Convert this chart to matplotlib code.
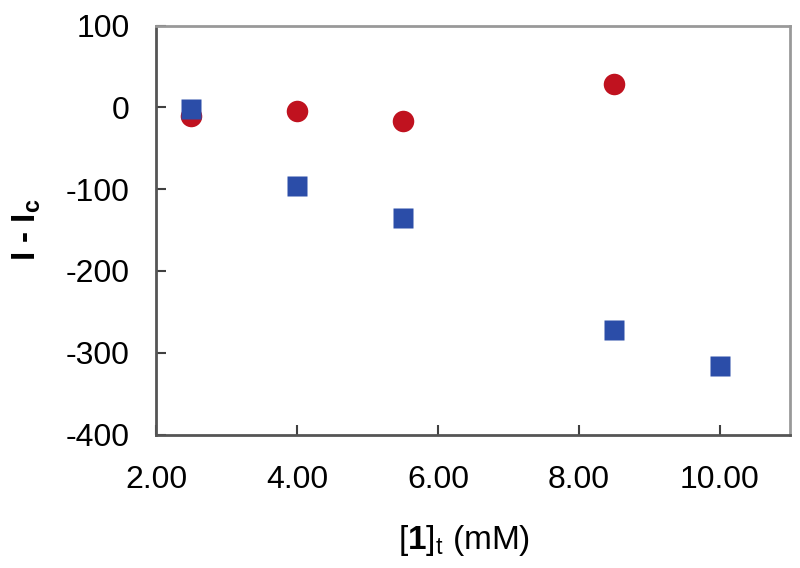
import numpy as np
import matplotlib
matplotlib.use("Agg")
import matplotlib.pyplot as plt

# ===============================================================================

conc_red = [2.5, 4.0, 5.5, 8.5]
diff_red = [-10, -4, -17, 29]

conc_blue = [2.5, 4.0, 5.5, 8.5, 10.0]
diff_blue = [-2, -96, -135, -272, -316]

xticks = [2, 4, 6, 8, 10]
yticks = [-400, -300, -200, -100, 0, 100]

# ===============================================================================

plt.rcParams['font.family'] = ['Liberation Sans', 'DejaVu Sans']
plt.rcParams['mathtext.fontset'] = 'custom'
plt.rcParams['mathtext.rm'] = 'Liberation Sans'
plt.rcParams['mathtext.it'] = 'Liberation Sans:italic'
plt.rcParams['mathtext.bf'] = 'Liberation Sans:bold'
plt.rcParams['axes.unicode_minus'] = False

fig = plt.figure(figsize=(8, 5.68), dpi=100)
ax = fig.add_axes([0.195, 0.235, 0.793, 0.72])

ax.plot(conc_red, diff_red, 'o', ms=15.5, color='#c0121f', mec='none', zorder=2)
ax.plot(conc_blue, diff_blue, 's', ms=15, color='#2b4da8', mec='none', zorder=3)

ax.set_xlim(2, 11)
ax.set_ylim(-400, 100)
ax.set_xticks(xticks)
ax.set_xticklabels(['%.2f' % v for v in xticks])
ax.set_yticks(yticks)

for s in ax.spines.values():
    s.set_color('#999999')
    s.set_linewidth(2)
ax.spines['left'].set_color('#555555')
ax.spines['bottom'].set_color('#555555')

ax.tick_params(direction='in', length=7, width=1.5, color='#404040',
               labelsize=23)
ax.tick_params(axis='x', pad=22)
ax.tick_params(axis='y', pad=19)

ax.set_ylabel(r'I - I$_\mathbf{c}$', fontsize=24, fontweight='bold', labelpad=16)
ax.set_xlabel(r'[$\mathbf{1}$]$_\mathrm{t}$ (mM)', fontsize=24, labelpad=20)
ax.xaxis.label.set_x(0.485)

fig.savefig('out.png', dpi=100)
